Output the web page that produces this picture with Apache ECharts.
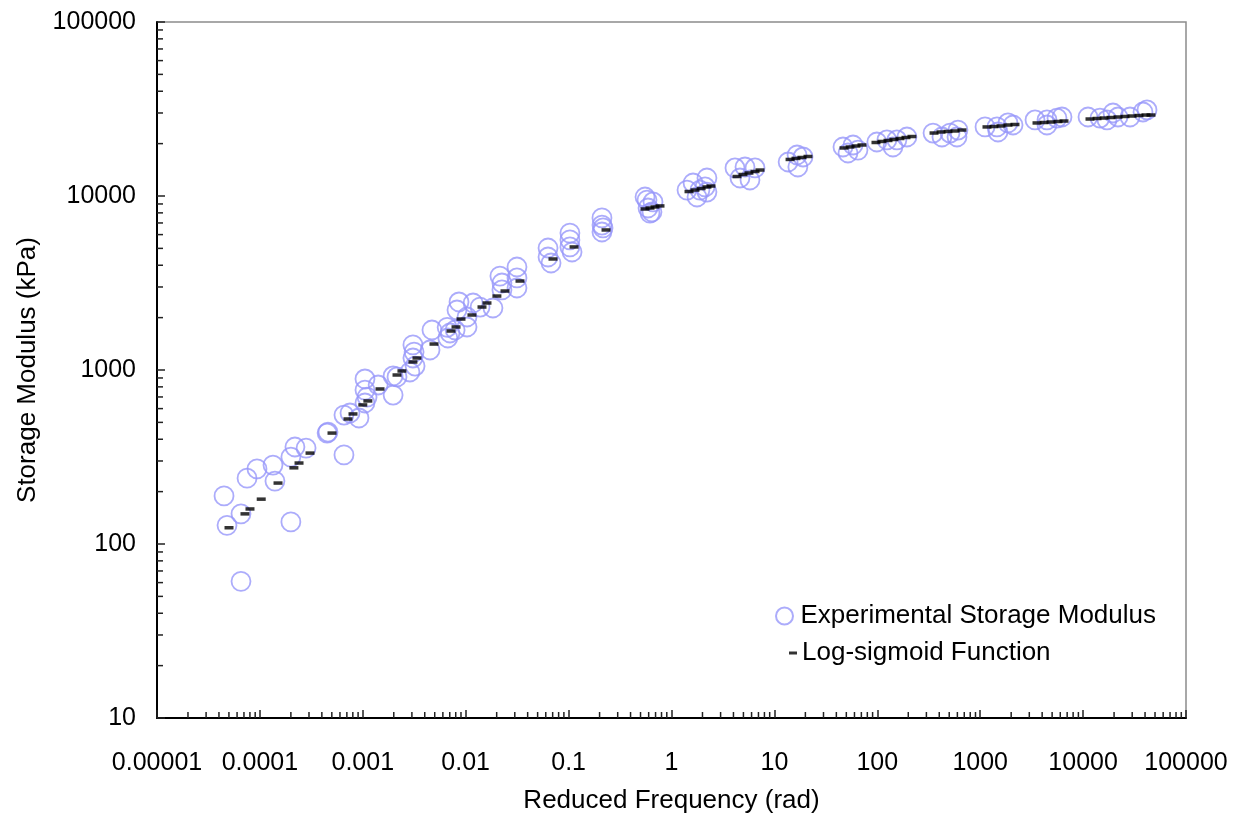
<!DOCTYPE html>
<html><head><meta charset="utf-8">
<script src="https://cdn.jsdelivr.net/npm/echarts@6/dist/echarts.min.js"></script>
<style>html,body{margin:0;padding:0;background:#fff}#c{width:1240px;height:815px}</style>
</head><body><div id="c"></div>
<script>
// Experimental storage modulus (reduced frequency in rad, modulus in kPa)
const expFreq = [4.48e-5,4.79e-5,6.55e-5,6.55e-5,7.5e-5,9.37e-5,1.34e-4,1.40e-4,2.0e-4,2.0e-4,2.19e-4,2.81e-4,4.59e-4,4.5e-4,6.56e-4,6.56e-4,7.51e-4,9.18e-4,
  1.05e-3,1.05e-3,1.05e-3,1.10e-3,1.41e-3,1.97e-3,1.97e-3,2.15e-3,3.07e-3,3.15e-3,3.07e-3,3.22e-3,2.87e-3,4.70e-3,4.50e-3,6.6e-3,6.7e-3,7.04e-3,7.89e-3,8.61e-3,8.23e-3,
  1.03e-2,1.03e-2,1.18e-2,1.38e-2,1.84e-2,2.15e-2,2.25e-2,2.25e-2,3.15e-2,3.15e-2,3.15e-2,6.31e-2,6.31e-2,6.75e-2,
  0.103,0.103,0.103,0.108,0.211,0.211,0.211,0.216,0.553,0.578,0.591,0.618,0.661,0.646,
  1.415,1.62,1.89,1.77,2.21,2.21,2.12,4.14,5.18,6.48,4.63,5.79,13.6,16.6,18.97,16.9,46.4,58.1,51.9,64.9,
  99,124,155,194,142,348,425,509,608,595,1114,1456,1862,2084,1489,3410,4457,5572,6237,4457,
  11160,14590,19530,21830,28570,38200,41790,17070];
const expModulus = [189,128,149,61,239,270,284,230,316,134,361,356,440,434,325,551,566,530,
  888,767,646,699,820,718,924,912,1393,1268,1172,1054,974,1698,1303,1760,1527,1632,1698,2460,2212,
  2017,1767,2427,2301,2271,3467,3162,2884,3908,3380,2959,5026,4461,4121,
  6124,5590,5096,4766,7480,6810,6210,6550,9870,9480,8530,7980,9240,8090,
  10820,11880,10820,9870,12690,10540,11270,14490,14680,14490,12690,12360,15680,17200,16760,14680,19130,19640,17670,18370,
  20430,20990,20990,21830,19130,23010,21830,23010,23940,21830,24940,24940,26290,25590,23330,27350,27350,28060,28450,25590,
  28450,28060,29990,28450,28450,30390,31220,27350];

// Log-sigmoid fitted values
const fitFreq = [5.01e-5,7.16e-5,8.01e-5,1.03e-4,1.50e-4,2.14e-4,2.40e-4,3.07e-4,5.02e-4,7.18e-4,8.03e-4,
  1.0e-3,1.12e-3,1.47e-3,2.15e-3,2.40e-3,3.07e-3,3.36e-3,4.92e-3,7.2e-3,8.05e-3,9.0e-3,
  1.15e-2,1.44e-2,1.61e-2,2.01e-2,2.41e-2,3.37e-2,7.05e-2,0.113,0.231,0.553,0.618,0.691,0.773,
  1.48,1.69,1.94,2.21,2.42,4.33,4.95,5.66,6.48,7.24,14.2,16.2,18.5,21.2,47.5,54.3,62.1,71.0,
  97.1,111,127,145,166,190,217,356,416,486,569,665,1164,1362,1593,1862,2178,3565,4169,4875,5702,6521,
  11670,13650,15960,18670,21830,25540,29870,34920,40840,45700];
const fitModulus = [124,149,159,181,224,274,292,333,434,523,559,
  630,664,778,936,987,1112,1172,1410,1675,1767,1963,
  2070,2301,2427,2661,2844,3246,4345,5096,6380,8420,8530,8650,8770,
  10610,10820,11040,11270,11410,12940,13290,13560,13830,14100,16220,16440,16650,16870,18880,19130,19380,19640,
  20300,20580,20850,21120,21400,21680,21970,23010,23330,23490,23640,23940,24940,25070,25260,25590,25760,26290,26450,26620,26800,26970,
  27700,27890,28060,28250,28450,28640,28820,29010,29200,29200];

const xTickLabels = ['0.00001','0.0001','0.001','0.01','0.1','1','10','100','1000','10000','100000'];
const yTickLabels = ['10','100','1000','10000','100000'];

const FONT = "'Liberation Sans', Arial, sans-serif";
const xDecades = xTickLabels.map(Number);
const yDecades = yTickLabels.map(Number);
function minorValues(decs){const out=[];for(let i=0;i<decs.length-1;i++){for(let k=2;k<=9;k++)out.push(decs[i]*k);}return out;}
const xMinor = minorValues(xDecades).map(v=>[v, yDecades[0]]);
const yMinor = minorValues(yDecades).map(v=>[xDecades[0], v]);

const chart = echarts.init(document.getElementById('c'), null, {renderer:'canvas'});
const axisLabelCommon = {color:'#000', fontSize:25, fontFamily:FONT};
chart.setOption({
  animation:false,
  backgroundColor:'#fff',
  grid:{left:157, right:54, top:22, bottom:97, outerBoundsMode:'none', containLabel:false,
    show:true, borderColor:'#8c8c8c', borderWidth:1.5, backgroundColor:'transparent'},
  xAxis:{type:'log', logBase:10, min:xDecades[0], max:xDecades[xDecades.length-1], interval:1,
    name:'Reduced Frequency (rad)', nameLocation:'middle', nameGap:70,
    nameTextStyle:{color:'#000', fontSize:26, fontFamily:FONT},
    axisLine:{show:true, lineStyle:{color:'#000', width:2}},
    axisTick:{show:true, inside:true, length:8, lineStyle:{color:'#222', width:1.5}},
    minorTick:{show:false},
    axisLabel:Object.assign({margin:33, formatter:v=>xTickLabels[Math.round(Math.log10(v))+5]}, axisLabelCommon),
    splitLine:{show:false}},
  yAxis:{type:'log', logBase:10, min:yDecades[0], max:yDecades[yDecades.length-1], interval:1,
    name:'Storage Modulus (kPa)', nameLocation:'middle', nameGap:116, nameRotate:90,
    nameTextStyle:{color:'#000', fontSize:26, fontFamily:FONT},
    axisLine:{show:true, lineStyle:{color:'#000', width:2}},
    axisTick:{show:true, inside:true, length:8, lineStyle:{color:'#222', width:1.5}},
    minorTick:{show:false},
    axisLabel:Object.assign({margin:21, formatter:v=>yTickLabels[Math.round(Math.log10(v))-1]}, axisLabelCommon),
    splitLine:{show:false}},
  legend:[
    {data:[{name:'Experimental Storage Modulus', icon:'circle'}], left:775, top:603, padding:0, itemWidth:22, itemHeight:17,
      textStyle:{color:'#000', fontSize:26, fontFamily:FONT}, selectedMode:false},
    {data:[{name:'Log-sigmoid Function', icon:'rect'}], left:789, top:640, padding:0, itemWidth:8, itemHeight:3,
      textStyle:{color:'#000', fontSize:26, fontFamily:FONT}, selectedMode:false}
  ],
  series:[
    {type:'custom', silent:true, data:xMinor, renderItem:(p,api)=>{const c=api.coord([api.value(0),api.value(1)]);
      return {type:'line', shape:{x1:c[0],y1:c[1],x2:c[0],y2:c[1]-6}, style:{stroke:'#222', lineWidth:1.5}};}},
    {type:'custom', silent:true, data:yMinor, renderItem:(p,api)=>{const c=api.coord([api.value(0),api.value(1)]);
      return {type:'line', shape:{x1:c[0],y1:c[1],x2:c[0]+6,y2:c[1]}, style:{stroke:'#222', lineWidth:1.5}};}},
    {name:'Experimental Storage Modulus', type:'scatter', symbol:'circle', symbolSize:19,
      itemStyle:{color:'rgba(255,255,255,0)', borderColor:'#9797fa', borderWidth:1.8},
      data:expFreq.map((f,i)=>[f, expModulus[i]])},
    {name:'Log-sigmoid Function', type:'scatter', symbol:'rect', symbolSize:[9,3.5],
      itemStyle:{color:'#000'},
      data:fitFreq.map((f,i)=>[f, fitModulus[i]])}
  ]
});
</script></body></html>
